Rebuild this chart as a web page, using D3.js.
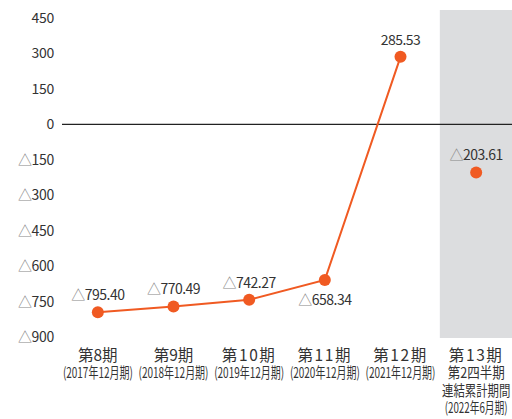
<!DOCTYPE html>
<html><head><meta charset="utf-8">
<script src="https://cdn.jsdelivr.net/npm/d3@7"></script>
<style>body{margin:0;background:#fff}svg{display:block}text{font-family:"Noto Sans CJK JP","Noto Sans",sans-serif}</style>
</head><body><svg id="c" width="512" height="419"></svg>
<script>
const categories = ["第8期","第9期","第10期","第11期","第12期","第13期"];
const subLabels = [["(2017年12月期)"],["(2018年12月期)"],["(2019年12月期)"],["(2020年12月期)"],["(2021年12月期)"],["第2四半期","連結累計期間","(2022年6月期)"]];
const values = [-795.40, -770.49, -742.27, -658.34, 285.53, -203.61];
const valueLabels = ["795.40","770.49","742.27","658.34","285.53","203.61"];
const yTicks = [450,300,150,0,-150,-300,-450,-600,-750,-900];
const highlighted = "第13期";

const svg = d3.select("#c");
const x = d3.scaleBand().domain(categories).range([60,514]).paddingInner(0).paddingOuter(0);
const y = d3.scaleLinear().domain([-900,450]).range([337,18]);
const orange = "#f05a22";

svg.append("rect").attr("x", x(highlighted)+1.5).attr("y", 10)
  .attr("width", x.bandwidth()).attr("height", y(-900)+1-10).attr("fill","#dcdddf");

svg.append("line").attr("x1",62).attr("x2",512).attr("y1",y(0)).attr("y2",y(0))
  .attr("stroke","#222").attr("stroke-width",1.2);

const yt = svg.append("g").selectAll("text").data(yTicks).join("text")
  .attr("x",54).attr("y",d=>y(d)).attr("dy","0.36em").attr("text-anchor","end")
  .attr("font-size",14).attr("fill","#333").attr("letter-spacing","-0.3");
yt.each(function(d){
  const t=d3.select(this);
  if(d<0){t.append("tspan").attr("fill","#888").text("△");}
  t.append("tspan").text(Math.abs(d));
});

const pts = categories.map((c,i)=>({c,v:values[i],l:valueLabels[i]}));
const line = d3.line().x(d=>x(d.c)+x.bandwidth()/2).y(d=>y(d.v));
svg.append("path").datum(pts.slice(0,5)).attr("d",line).attr("fill","none")
  .attr("stroke",orange).attr("stroke-width",2);
svg.append("g").selectAll("circle").data(pts).join("circle")
  .attr("cx",d=>x(d.c)+x.bandwidth()/2).attr("cy",d=>y(d.v)).attr("r",6).attr("fill",orange);

const vl = svg.append("g").selectAll("text").data(pts).join("text")
  .attr("x",d=>x(d.c)+x.bandwidth()/2)
  .attr("y",(d,i)=> i===3 ? y(d.v)+20 : y(d.v)-17)
  .attr("dy","0.36em").attr("text-anchor","middle").attr("font-size",14).attr("fill","#333")
  .attr("letter-spacing","-0.5");
vl.each(function(d){
  const t=d3.select(this);
  if(d.v<0) t.append("tspan").attr("fill","#888").text("△");
  t.append("tspan").text(d.l);
});

const cg = svg.append("g");
categories.forEach((c,i)=>{
  const cx = x(c)+x.bandwidth()/2;
  const h = cg.append("text").attr("x",cx).attr("y",355).attr("dy","0.36em").attr("text-anchor","middle")
    .attr("font-size",15.5).attr("fill","#333").text(c);
  if(c.length>3) h.attr("letter-spacing","1.6");
  subLabels[i].forEach((s,j)=>{
    const isParen = s.startsWith("(");
    const g = cg.append("g").attr("transform",`translate(${cx},${373+j*17.5})`);
    const t = g.append("text").attr("x",0).attr("y",0).attr("dy","0.36em").attr("text-anchor","middle")
      .attr("font-size",14.5).attr("fill","#333").text(s);
    const target = isParen ? (s.length>=11?70:63) : s.length*11.4;
    const w = t.node().getComputedTextLength();
    t.attr("transform",`scale(${target/w},1)`);
  });
});
</script></body></html>
